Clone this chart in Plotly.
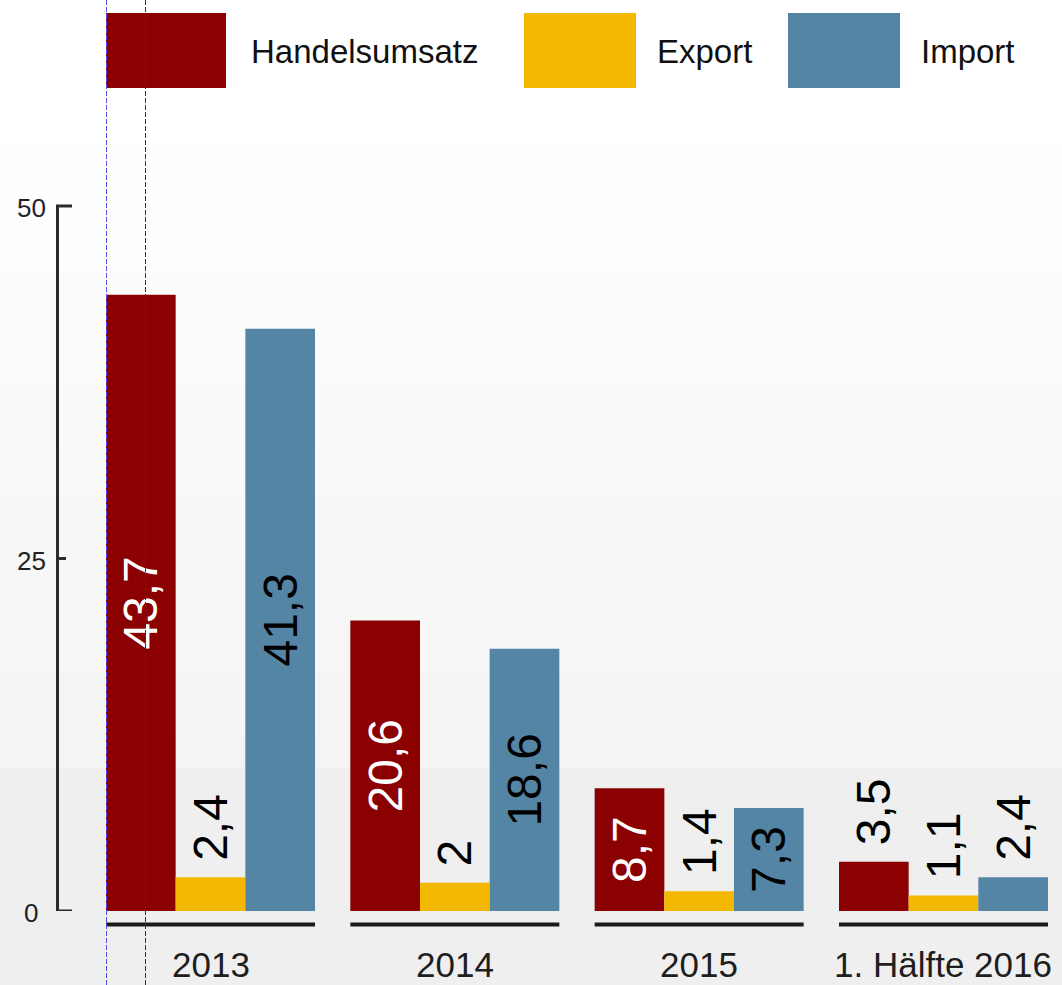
import plotly.graph_objects as go

categories = ["2013", "2014", "2015", "1. Hälfte 2016"]
handelsumsatz = [43.7, 20.6, 8.7, 3.5]
export = [2.4, 2.0, 1.4, 1.1]
imports = [41.3, 18.6, 7.3, 2.4]
series_names = ["Handelsumsatz", "Export", "Import"]
y_ticks = [0, 25, 50]

FONT = "Liberation Sans"
W, H = 1062, 985
ML, MR, MT, MB = 57, 0, 0, 74
PW, PH = W - ML - MR, H - MT - MB
PX_PER_UNIT = 14.1
GROUP_PX = 244.33
CENTER0 = 210.5


def px_x(px):
    return (px - ML) / PW


def px_y(py):
    return (MT + PH - py) / PH


def fmt(v):
    return f"{v:g}".replace(".", ",")


colors = ["#8b0000", "#f3b900", "#5485a4"]
inside_colors = ["#ffffff", "#000000", "#000000"]
all_series = [handelsumsatz, export, imports]

fig = go.Figure()
for name, vals, col, icol in zip(series_names, all_series, colors, inside_colors):
    pos = ["inside" if v >= 5 else "outside" for v in vals]
    txt = [fmt(v) if p == "inside" else "\u00a0" + fmt(v) for v, p in zip(vals, pos)]
    fig.add_trace(go.Bar(
        x=categories, y=vals, name=name, marker=dict(color=col, line=dict(width=0)),
        text=txt, textposition=pos, textangle=-90, insidetextanchor="middle",
        textfont=dict(family=FONT, size=48),
        insidetextfont=dict(family=FONT, size=48, color=icol),
        outsidetextfont=dict(family=FONT, size=48, color="#000000"),
        constraintext="none", cliponaxis=False, showlegend=False,
    ))

shapes = []
# background gradient
N = 48
top, bottom = 0, 768
for i in range(N):
    y0 = top + (bottom - top) * i / N
    y1 = top + (bottom - top) * (i + 1) / N
    yc = (y0 + y1) / 2
    if yc < 120:
        g = 255
    else:
        g = round(255 - (255 - 244) * (yc - 120) / (768 - 120))
    shapes.append(dict(type="rect", xref="paper", yref="paper", layer="below",
                       x0=px_x(0), x1=px_x(W), y0=px_y(y1), y1=px_y(y0),
                       fillcolor=f"rgb({g},{g},{g})", line=dict(width=0)))

# y axis line, caps and ticks
axis_col = "#2e2a26"
shapes.append(dict(type="line", xref="paper", yref="y", x0=px_x(57.5), x1=px_x(57.5),
                   y0=min(y_ticks), y1=max(y_ticks), line=dict(color=axis_col, width=3)))
for t in y_ticks:
    end = 72 if t in (min(y_ticks), max(y_ticks)) else 66
    shapes.append(dict(type="line", xref="paper", yref="y", x0=px_x(56), x1=px_x(end),
                       y0=t, y1=t, line=dict(color=axis_col, width=3)))

# category underlines
half = 0.4277
for i, c in enumerate(categories):
    shapes.append(dict(type="line", xref="x", yref="paper", x0=i - half, x1=i + half,
                       y0=px_y(924.5), y1=px_y(924.5), line=dict(color="#1b1b1b", width=4)))

# legend swatches
legend_boxes = [(106, 226), (524, 636), (788, 900)]
for (x0, x1), col in zip(legend_boxes, colors):
    shapes.append(dict(type="rect", xref="paper", yref="paper", x0=px_x(x0), x1=px_x(x1),
                       y0=px_y(88), y1=px_y(13), fillcolor=col, line=dict(width=0)))

# dashed guide lines
for gx, gc in ((106.5, "#5050f0"), (145.5, "#1a1aff")):
    shapes.append(dict(type="line", xref="paper", yref="paper", layer="above",
                       x0=px_x(gx), x1=px_x(gx), y0=px_y(H), y1=px_y(0),
                       line=dict(color=gc, width=1, dash="5px,2px")))

annotations = []
for t in y_ticks:
    annotations.append(dict(xref="paper", yref="y", x=0, y=t, xshift=-26, yshift=-2,
                            text=str(t), showarrow=False, xanchor="center", yanchor="middle",
                            font=dict(family=FONT, size=26, color="#222222")))
for i, c in enumerate(categories):
    annotations.append(dict(xref="x", yref="paper", x=i, y=px_y(965),
                            text=c, showarrow=False, xanchor="center", yanchor="middle",
                            font=dict(family=FONT, size=35, color="#1e1e1e")))
legend_text_x = [249, 655, 919]
for name, lx in zip(series_names, legend_text_x):
    annotations.append(dict(xref="paper", yref="paper", x=px_x(lx), y=px_y(52),
                            text=name, showarrow=False, xanchor="left", yanchor="middle",
                            font=dict(family=FONT, size=33, color="#111111")))

fig.update_layout(
    width=W, height=H,
    margin=dict(l=ML, r=MR, t=MT, b=MB, pad=0),
    paper_bgcolor="#efefef", plot_bgcolor="rgba(0,0,0,0)",
    barmode="group", bargap=1 - 209 / GROUP_PX, bargroupgap=0,
    xaxis=dict(type="category", categoryorder="array", categoryarray=categories,
               range=[-(CENTER0 - ML) / GROUP_PX, (W - MR - CENTER0) / GROUP_PX],
               showticklabels=False, showgrid=False, zeroline=False, showline=False, ticks=""),
    yaxis=dict(range=[0, PH / PX_PER_UNIT], showticklabels=False, showgrid=False,
               zeroline=False, showline=False, ticks=""),
    shapes=shapes, annotations=annotations, showlegend=False,
)

fig.write_html("out.html", config={"displayModeBar": False},
               post_script="document.body.style.margin='0';document.body.style.overflow='hidden';")
